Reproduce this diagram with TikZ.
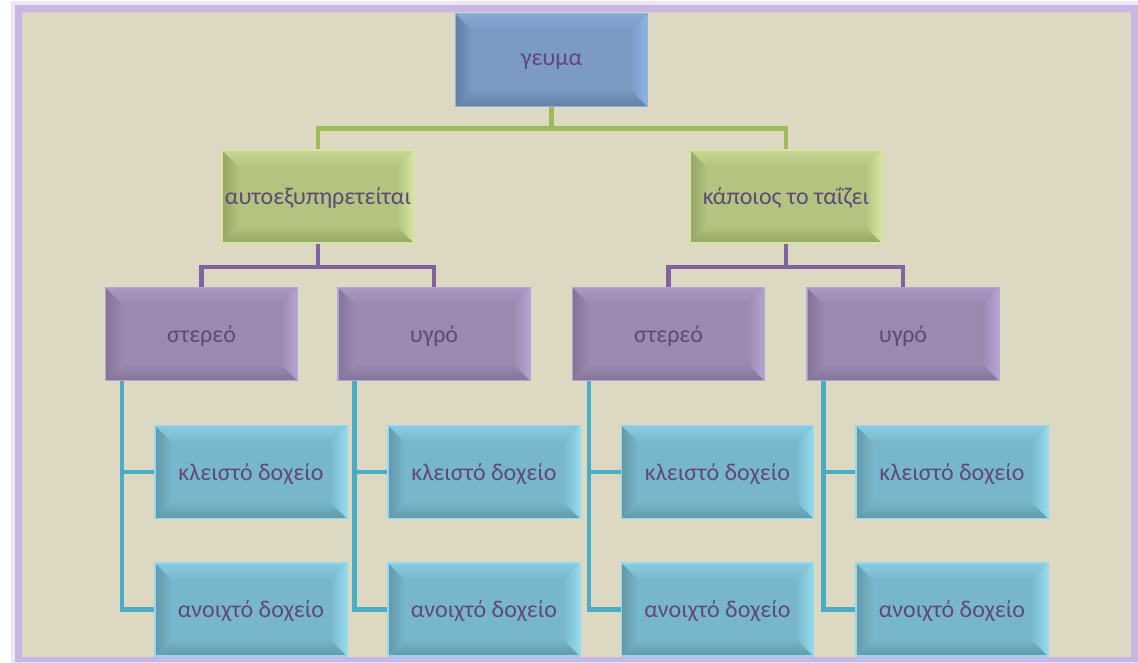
\documentclass[tikz,border=0pt]{standalone}
\usepackage{fontspec}
\setmainfont{Carlito}
\usetikzlibrary{calc}

\definecolor{bgcol}{HTML}{DDD8C2}
\definecolor{framecol}{HTML}{C8B7E2}
\definecolor{textcol}{HTML}{5F497A}
\definecolor{topbody}{HTML}{7B9BC4}
\definecolor{toplight}{HTML}{8DB4E2}
\definecolor{topdark}{HTML}{627FA4}
\definecolor{greenbody}{HTML}{B2C47F}
\definecolor{greenlight}{HTML}{D7E5A2}
\definecolor{greendark}{HTML}{95A565}
\definecolor{purplebody}{HTML}{9C89B1}
\definecolor{purplelight}{HTML}{B5A3D2}
\definecolor{purpledark}{HTML}{847398}
\definecolor{bluebody}{HTML}{78B7CB}
\definecolor{bluelight}{HTML}{94DAEF}
\definecolor{bluedark}{HTML}{6298AA}
\definecolor{greenline}{HTML}{9BBB59}
\definecolor{purpleline}{HTML}{8064A2}
\definecolor{blueline}{HTML}{4BACC6}

\tikzset{
  bevel/.style n args={3}{
    fill=#1, draw=#2, line width=1.2pt,
    minimum width=144pt, minimum height=70pt, inner sep=1pt,
    text depth=0pt, text=textcol, font=\fontsize{18}{21}\selectfont,
    path picture={
      \path (path picture bounding box.south west) coordinate (bsw)
            (path picture bounding box.north east) coordinate (bne);
      \coordinate (bnw) at (bsw |- bne);
      \coordinate (bse) at (bne |- bsw);
      % left and bottom (shadow side)
      \shade[left color=#3, right color=#1]
        (bsw) -- (bnw) -- ([shift={(13pt,-13pt)}]bnw) -- ([shift={(13pt,13pt)}]bsw) -- cycle;
      \shade[bottom color=#3, top color=#1]
        (bsw) -- (bse) -- ([shift={(-13pt,13pt)}]bse) -- ([shift={(13pt,13pt)}]bsw) -- cycle;
      % top and right (lit side)
      \shade[top color=#1!40!#2, bottom color=#1]
        (bnw) -- (bne) -- ([shift={(-13pt,-13pt)}]bne) -- ([shift={(13pt,-13pt)}]bnw) -- cycle;
      \shade[right color=#2, left color=#1]
        (bne) -- (bse) -- ([shift={(-13pt,13pt)}]bse) -- ([shift={(-13pt,-13pt)}]bne) -- cycle;
    }},
  topbox/.style={bevel={topbody}{toplight}{topdark}},
  greenbox/.style={bevel={greenbody}{greenlight}{greendark}},
  purplebox/.style={bevel={purplebody}{purplelight}{purpledark}},
  bluebox/.style={bevel={bluebody}{bluelight}{bluedark}},
  conn/.style={line width=3.6pt}
}

\begin{document}
\begin{tikzpicture}[x=0.75pt,y=-0.75pt]
\useasboundingbox (0,0) rectangle (1138,662);

% Background
\fill[white] (0,0) rectangle (1138,662);
\fill[bgcol] (22,12) rectangle (1131,657);

% Root and second level
\node[topbox] (root) at (551.5,60) {γευμα};
\node[greenbox] (self) at (318,196.5) {αυτοεξυπηρετείται};
\node[greenbox] (fed) at (786,196.5) {κάποιος το ταΐζει};

\draw[conn,greenline] (root.south) -- ++(0,21) -| (self.north);
\draw[conn,greenline] (root.south) -- ++(0,21) -| (fed.north);

% Third and fourth level
\foreach \i/\px/\bx/\lbl in {1/201.5/251/στερεό, 2/434/484/υγρό, 3/668.5/717.5/στερεό, 4/903/952/υγρό} {
  \node[purplebox] (p\i) at (\px,334) {\lbl};
  \node[bluebox] (k\i) at (\bx,472) {κλειστό δοχείο};
  \node[bluebox] (a\i) at (\bx,609.5) {ανοιχτό δοχείο};
  \coordinate (s\i) at ([xshift=13pt]p\i.south west);
  \draw[conn,blueline] (s\i) |- (a\i.west);
  \draw[conn,blueline] (s\i |- k\i.west) -- (k\i.west);
}

\draw[conn,purpleline] (self.south) -- ++(0,23) -| (p1.north);
\draw[conn,purpleline] (self.south) -- ++(0,23) -| (p2.north);
\draw[conn,purpleline] (fed.south) -- ++(0,23) -| (p3.north);
\draw[conn,purpleline] (fed.south) -- ++(0,23) -| (p4.north);

% Frame
\draw[framecol!35,line width=3pt] (13,3) rectangle (1140,664);
\fill[framecol,even odd rule] (15,5) rectangle (1138,662) (22,12) rectangle (1131,657);

\end{tikzpicture}
\end{document}
